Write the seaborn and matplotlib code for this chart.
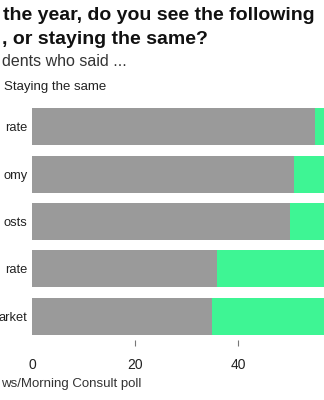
import matplotlib
matplotlib.use("Agg")
import matplotlib.pyplot as plt
import seaborn as sns
import pandas as pd

# ---- data (the chart is a cropped view) ----
categories = ["c1", "c2", "c3", "c4", "c5"]
category_labels = ["rate", "omy", "osts", "rate", "arket"]
staying_same = [55.0, 50.9, 50.0, 35.9, 34.9]
rising = [25.0, 27.0, 30.0, 40.0, 42.0]   # only partly visible in the reference
x_ticks = [0, 20, 40]
x_tick_labels = ["0", "20", "40"]

title_line1 = "the year, do you see the following"
title_line2 = ", or staying the same?"
subtitle = "dents who said ..."
legend_label = "Staying the same"
source = "ws/Morning Consult poll"

GRAY = "#9a9a9a"
GREEN = "#3ef594"

sns.set_theme(style="white")
plt.rcParams["font.family"] = ["Liberation Sans", "DejaVu Sans"]

W, H = 324, 400
fig = plt.figure(figsize=(W / 100, H / 100), dpi=100)
px_per_unit = 5.15
ax = fig.add_axes([32 / W, 60 / H, 100 * px_per_unit / W, 237 / H])

df = pd.DataFrame({
    "category": categories,
    "same": staying_same,
    "total": [s + r for s, r in zip(staying_same, rising)],
})

sns.barplot(data=df, y="category", x="total", color=GREEN, saturation=1,
            width=0.78, errorbar=None, orient="h", ax=ax, linewidth=0)
sns.barplot(data=df, y="category", x="same", color=GRAY, saturation=1,
            width=0.78, errorbar=None, orient="h", ax=ax, linewidth=0)

ax.set_xlim(0, 100)
ax.set_ylim(4.5, -0.5)
ax.set_xlabel("")
ax.set_ylabel("")
ax.set_yticks(range(len(categories)))
ax.set_yticklabels(category_labels)
ax.set_xticks(x_ticks)
ax.set_xticklabels(x_tick_labels)
for s in ax.spines.values():
    s.set_visible(False)
ax.tick_params(axis="x", bottom=True, length=4, width=0.8, color="#777777",
               pad=9, labelsize=10, labelcolor="#222222", direction="out")
ax.tick_params(axis="y", left=False, length=0, pad=3.4, labelsize=9.3, labelcolor="#222222")
ax.xaxis.get_major_ticks()[0].tick1line.set_visible(False)
ax.grid(False)

# ---- texts ----
fig.text(3 / W, 1 - 16 / H, title_line1, ha="left", va="center",
         fontsize=14, fontweight="bold", color="#111111")
fig.text(2 / W, 1 - 40 / H, title_line2, ha="left", va="center",
         fontsize=14, fontweight="bold", color="#111111")
fig.text(2 / W, 1 - 62 / H, subtitle, ha="left", va="center",
         fontsize=11.5, color="#333333")
fig.text(4 / W, 1 - 87 / H, legend_label, ha="left", va="center",
         fontsize=9.5, color="#222222")
fig.text(1 / W, 1 - 384 / H, source, ha="left", va="center",
         fontsize=9.5, color="#333333")

fig.savefig("out.png", dpi=100)
